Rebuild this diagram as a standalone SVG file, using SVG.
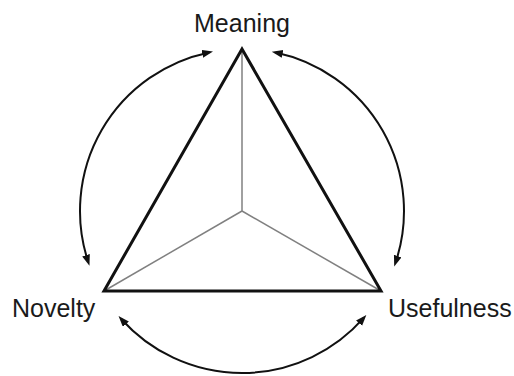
<svg xmlns="http://www.w3.org/2000/svg" width="514" height="376" viewBox="0 0 514 376">
<style>
.lbl{font-family:"Liberation Sans",Arial,sans-serif;font-size:25px;fill:#1a1a1a}
.arc{fill:none;stroke:#111;stroke-width:2}
.spoke{stroke:#808080;stroke-width:1.5}
.tri{fill:none;stroke:#111;stroke-width:3;stroke-linejoin:miter}
</style>
<defs>
<marker id="ah" markerUnits="userSpaceOnUse" markerWidth="12" markerHeight="10" refX="7" refY="4" orient="auto-start-reverse">
<path d="M0,0 L11,4 L0,8 z" fill="#111"/>
</marker>
</defs>
<rect width="514" height="376" fill="#fff"/>
<g id="connectors">
<path class="arc" d="M275.7,52.5 A162,162 0 0 1 395.5,262.7" marker-start="url(#ah)" marker-end="url(#ah)"/>
<path class="arc" d="M363.7,317.9 A162,162 0 0 1 121.2,319.0" marker-start="url(#ah)" marker-end="url(#ah)"/>
<path class="arc" d="M88.2,261.9 A162,162 0 0 1 209.1,52.4" marker-start="url(#ah)" marker-end="url(#ah)"/>
</g>
<g id="triangle">
<line class="spoke" x1="242" y1="211" x2="242" y2="49"/>
<line class="spoke" x1="242" y1="211" x2="104" y2="291"/>
<line class="spoke" x1="242" y1="211" x2="381" y2="291"/>
<polygon class="tri" points="242,49 381,291 104,291"/>
</g>
<g id="meaning"><text class="lbl" x="242" y="32" text-anchor="middle">Meaning</text></g>
<g id="novelty"><text class="lbl" x="12" y="317">Novelty</text></g>
<g id="usefulness"><text class="lbl" x="388" y="317">Usefulness</text></g>
</svg>
